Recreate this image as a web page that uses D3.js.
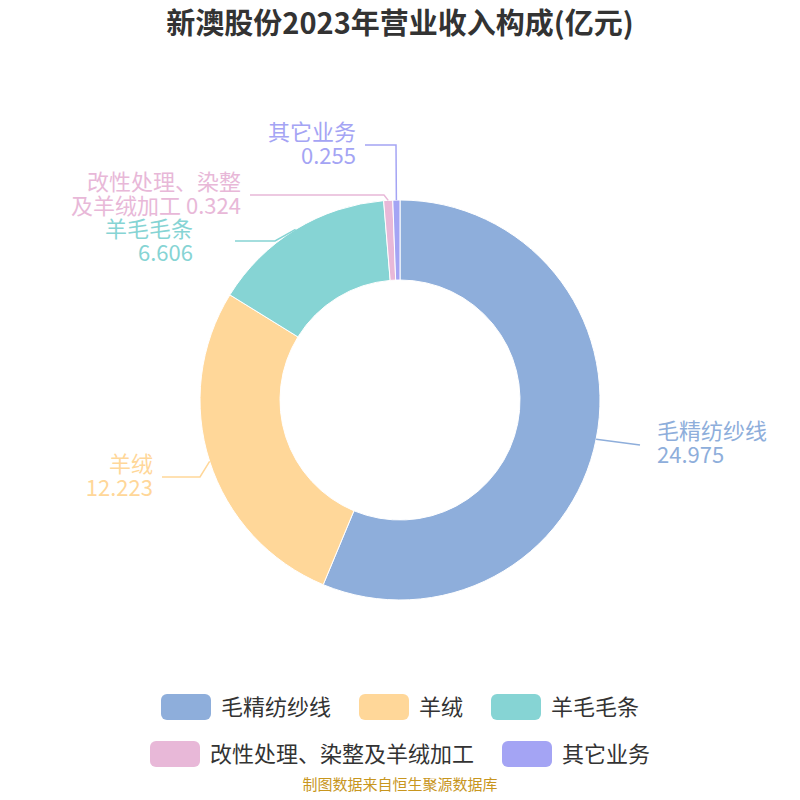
<!DOCTYPE html><html><head><meta charset="utf-8"><script src="https://cdn.jsdelivr.net/npm/d3@7"></script>
<style>body{margin:0;background:#fff}text{font-family:"Noto Sans CJK SC","Noto Sans",sans-serif}</style></head><body>
<svg id="c" width="800" height="800"></svg>
<script>
const categories=["毛精纺纱线","羊绒","羊毛毛条","改性处理、染整及羊绒加工","其它业务"];
const values=[24.975,12.223,6.606,0.324,0.255];
const valueLabels=["24.975","12.223","6.606","0.324","0.255"];
const colors=["#8eaedb","#ffd799","#86d4d4","#e8b8d8","#a4a4f4"];
const svg=d3.select("#c"),cx=400,cy=400,R=200,r=120;
svg.append("text").attr("x",400).attr("y",34).attr("text-anchor","middle").attr("font-size",29).attr("font-weight","bold").attr("fill","#333").text("新澳股份2023年营业收入构成(亿元)");
const pie=d3.pie().sort(null).value(d=>d)(values);
const arc=d3.arc().innerRadius(r).outerRadius(R);
const g=svg.append("g").attr("transform",`translate(${cx},${cy})`);
g.selectAll("path").data(pie).join("path").attr("d",arc).attr("fill",(d,i)=>colors[i]).attr("stroke","#fff").attr("stroke-width",1);
const lay=[
 {e:[640,445],t:[657,431],a:"start",lines:[categories[0],valueLabels[0]]},
 {e:[200,477],end:[162,477],t:[153,464],a:"end",lines:[categories[1],valueLabels[1]]},
 {e:[275,241],end:[235,241],t:[193,229],a:"end",lines:[categories[2],valueLabels[2]]},
 {e:[384,195],end:[250,195],t:[241,182],a:"end",lines:["改性处理、染整","及羊绒加工 "+valueLabels[3]]},
 {e:[396,145],end:[365,145],t:[356,132],a:"end",lines:[categories[4],valueLabels[4]]}
];
pie.forEach((d,i)=>{
 const m=(d.startAngle+d.endAngle)/2;
 const p=[cx+R*Math.sin(m),cy-R*Math.cos(m)];
 const L=lay[i];
 const pts=[p,L.e];if(L.end)pts.push(L.end);
 svg.append("polyline").attr("points",pts.map(q=>q.join(",")).join(" ")).attr("fill","none").attr("stroke",colors[i]).attr("stroke-width",1.5);
 L.lines.forEach((s,j)=>svg.append("text").attr("x",L.t[0]).attr("y",L.t[1]+j*24).attr("dy","0.35em").attr("text-anchor",L.a).attr("font-size",22).attr("fill",colors[i]).text(s));
});
const rows=[[0,1,2],[3,4]];
rows.forEach((row,ri)=>{
 const y=ri?754:707;
 const widths=row.map(i=>50+10+categories[i].length*22);
 const total=d3.sum(widths)+(row.length-1)*28;
 let x=400-total/2;
 row.forEach((i,k)=>{
  svg.append("rect").attr("x",x).attr("y",y-13).attr("width",50).attr("height",26).attr("rx",6).attr("fill",colors[i]);
  svg.append("text").attr("x",x+60).attr("y",y).attr("dy","0.35em").attr("font-size",22).attr("fill","#333").text(categories[i]);
  x+=widths[k]+28;
 });
});
svg.append("text").attr("x",400).attr("y",790).attr("text-anchor","middle").attr("font-size",15).attr("fill","#c8961e").text("制图数据来自恒生聚源数据库");
</script></body></html>
